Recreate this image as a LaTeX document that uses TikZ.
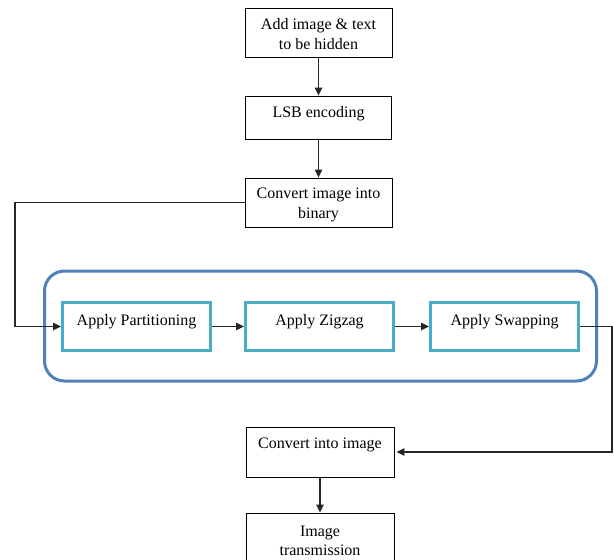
\documentclass[tikz,border=0pt]{standalone}
\usepackage{fontspec}
\setmainfont{Liberation Serif}
\usetikzlibrary{arrows.meta}
\definecolor{outerblue}{HTML}{4F81BD}
\definecolor{innercyan}{HTML}{4BACC6}
\begin{document}
\begin{tikzpicture}[x=1pt,y=-1pt,
  box/.style={draw=black, line width=0.9pt, fill=white, rectangle, inner sep=0pt},
  inbox/.style={draw=innercyan, line width=3pt, fill=white, rectangle, inner sep=0pt, minimum width=148pt, minimum height=48pt},
  grpbox/.style={draw=outerblue, line width=3pt, rounded corners=20pt, rectangle, inner sep=0pt},
  txt/.style={font=\fontsize{16}{19.5}\selectfont, align=center, inner sep=0pt},
  conn/.style={draw=black!85, line width=1.1pt, -{Triangle[length=8pt,width=7.5pt]}},
  plain/.style={draw=black!85, line width=1.1pt}]
\useasboundingbox (0,0) rectangle (614,560);
\clip (0,0) rectangle (614,560);
% top boxes
\node[box, minimum width=147pt, minimum height=49pt] (b1) at (318.5,32.5) {};
\node[txt] (t1) at (318.5,34) {Add image \& text\\to be hidden};
\node[box, minimum width=146pt, minimum height=43pt] (b2) at (318.5,117.5) {};
\node[txt] (t2) at (318.5,114) {LSB encoding};
\node[box, minimum width=147pt, minimum height=49pt] (b3) at (318.5,202.5) {};
\node[txt] (t3) at (318.5,205) {Convert image into\\binary};
% group
\node[grpbox, minimum width=552pt, minimum height=110pt] (grp) at (320.5,326) {};
\node[inbox] (pp) at (136.5,326.5) {};
\node[txt] (tp) at (136.5,322) {Apply Partitioning};
\node[inbox] (pz) at (319.5,326.5) {};
\node[txt] (tz) at (319.5,322) {Apply Zigzag};
\node[inbox] (ps) at (504.5,326.5) {};
\node[txt] (ts) at (504.5,322) {Apply Swapping};
% bottom boxes
\node[box, minimum width=148pt, minimum height=50pt] (ci) at (320,452) {};
\node[txt] (tc) at (320,445) {Convert into image};
\node[box, minimum width=148pt, minimum height=70pt] (it) at (320,548) {};
\node[txt] (ti) at (320,541) {Image\\transmission};
% connectors
\coordinate (cl) at (15,0);
\coordinate (cr) at (612,0);
\draw[conn] (b1) -- (b2);
\draw[conn] (b2) -- (b3);
\draw[conn] (b3.west) -- (b3.west -| cl) |- (pp.west);
\draw[conn] (pp) -- (pz);
\draw[conn] (pz) -- (ps);
\draw[conn] (ps.east) -- (ps.east -| cr) |- ([xshift=2pt]ci.east);
\draw[conn] (ci) -- (it);
\end{tikzpicture}
\end{document}
